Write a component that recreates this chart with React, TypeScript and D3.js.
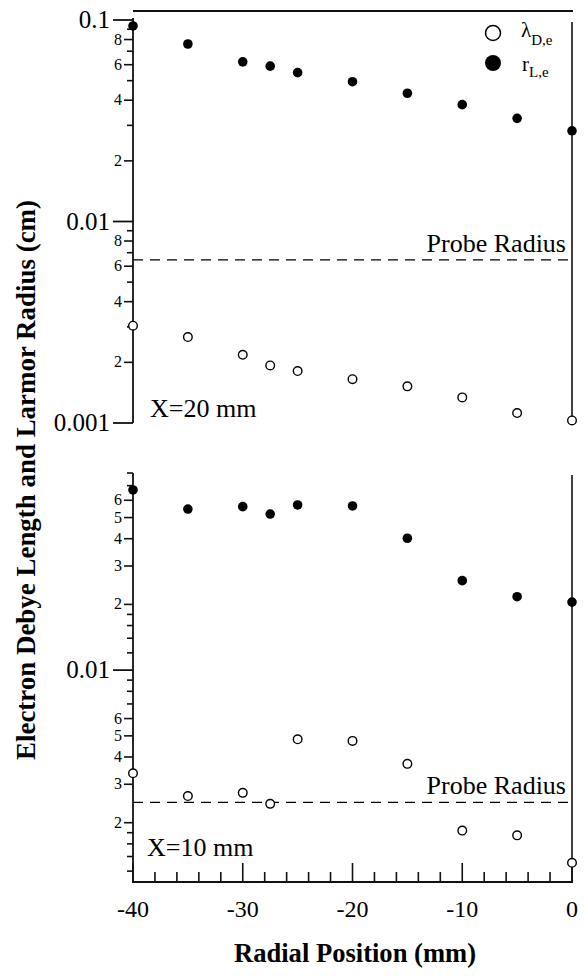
import React from "react";
import * as d3 from "d3";

const radialPos = [-40, -35, -30, -27.5, -25, -20, -15, -10, -5, 0];

// X = 20 mm panel
const debyeX20 = [0.00304, 0.00267, 0.00218, 0.00193, 0.00181, 0.00165, 0.00152, 0.00134, 0.00112, 0.00103];
const larmorX20 = [0.0934, 0.076, 0.062, 0.059, 0.0548, 0.0494, 0.0433, 0.038, 0.0325, 0.0282];
const probeX20 = 0.00645;

// X = 10 mm panel
const debyeX10 = [0.00337, 0.00265, 0.00274, 0.00244, 0.00482, 0.00474, 0.00372, 0.00184, 0.00175, 0.00131];
const larmorX10 = [0.0669, 0.0547, 0.0561, 0.0519, 0.0571, 0.0565, 0.0402, 0.0257, 0.0217, 0.0205];
const probeX10 = 0.00248;

const xTicksMajor = [-40, -30, -20, -10, 0];
const xTicksMinor = d3.range(-38, 0, 2).filter((v) => v % 10 !== 0);

const topMajor = [0.1, 0.01, 0.001];
const topMinorMult = [2, 3, 4, 5, 6, 7, 8, 9];
const topMinorLabels = [2, 4, 6, 8];
const botMajor = [0.01];
const botMinorMult = [1.2, 1.4, 1.6, 1.8, 2, 3, 4, 5, 6, 7, 8, 9];
const botMinorLabels = [2, 3, 4, 5, 6];

const FONT = "'Liberation Serif', 'Times New Roman', serif";

export default function App() {
  const x = d3.scaleLinear().domain([-40, 0]).range([133, 572]);
  const yTop = d3.scaleLog().domain([0.001, 0.1]).range([423, 20]);
  const yBot = d3.scaleLog().domain([0.00107, 0.08]).range([882, 473]);

  const minorTicks = (mults: number[], decades: number[], dom: number[]) => {
    const out: { v: number; m: number }[] = [];
    decades.forEach((d) =>
      mults.forEach((m) => {
        const v = d * m;
        if (v >= dom[0] * 0.999 && v <= dom[1] * 1.001) out.push({ v, m });
      })
    );
    return out;
  };

  const topMinors = minorTicks(topMinorMult, [0.001, 0.01], [0.001, 0.1]);
  const botMinors = minorTicks(botMinorMult, [0.001, 0.01], [0.00107, 0.08]);

  const axisColor = "#111";

  const renderYAxis = (
    y: d3.ScaleLogarithmic<number, number>,
    majors: number[],
    minors: { v: number; m: number }[],
    labels: number[],
    key: string,
    majorLabels: string[]
  ) => (
    <g key={key}>
      {majors.map((v, i) => (
        <g key={"M" + v}>
          <line x1={113} x2={133} y1={y(v)} y2={y(v)} stroke={axisColor} strokeWidth={1.8} />
          <text x={110} y={y(v) + 8} textAnchor="end" fontSize={25} fontFamily={FONT}>
            {majorLabels[i]}
          </text>
        </g>
      ))}
      {minors.map(({ v, m }) => {
        const lab = labels.includes(m);
        return (
          <g key={"m" + v}>
            <line x1={lab ? 124 : 127} x2={133} y1={y(v)} y2={y(v)} stroke={axisColor} strokeWidth={1.6} />
            {lab && (
              <text x={122} y={y(v) + 5} textAnchor="end" fontSize={16} fontFamily={FONT}>
                {m}
              </text>
            )}
          </g>
        );
      })}
    </g>
  );

  const renderPoints = (
    y: d3.ScaleLogarithmic<number, number>,
    vals: number[],
    filled: boolean,
    key: string
  ) =>
    vals.map((v, i) => (
      <circle
        key={key + i}
        cx={x(radialPos[i])}
        cy={y(v)}
        r={filled ? 4.8 : 4.3}
        fill={filled ? "#000" : "#fff"}
        stroke="#000"
        strokeWidth={filled ? 0 : 1.4}
      />
    ));

  return (
    <svg
      width={585}
      height={976}
      style={{ position: "absolute", left: 0, top: 0, background: "#fff" }}
      fontFamily={FONT}
    >
      <rect width={585} height={976} fill="#fff" />

      {/* ---------- Top panel (X=20 mm) ---------- */}
      <line x1={133} x2={573} y1={11} y2={11} stroke={axisColor} strokeWidth={2} />
      <line x1={133} x2={133} y1={18} y2={yTop(0.001)} stroke={axisColor} strokeWidth={1.8} />
      <line x1={572} x2={572} y1={22} y2={yTop(0.001)} stroke={axisColor} strokeWidth={1.6} />
      {renderYAxis(yTop, topMajor, topMinors, topMinorLabels, "ytop", ["0.1", "0.01", "0.001"])}
      <line
        x1={133}
        x2={572}
        y1={yTop(probeX20)}
        y2={yTop(probeX20)}
        stroke="#000"
        strokeWidth={1.3}
        strokeDasharray="10,7"
      />
      <text x={566} y={yTop(probeX20) - 8} textAnchor="end" fontSize={26}>
        Probe Radius
      </text>
      <text x={150} y={417} fontSize={26}>
        X=20 mm
      </text>
      {renderPoints(yTop, larmorX20, true, "lt")}
      {renderPoints(yTop, debyeX20, false, "dt")}

      {/* legend */}
      <circle cx={493} cy={33} r={7.5} fill="#fff" stroke="#000" strokeWidth={1.5} />
      <text x={521} y={37} fontSize={21}>
        λ<tspan fontSize={15} dy={8}>D,e</tspan>
      </text>
      <circle cx={493} cy={63} r={8} fill="#000" />
      <text x={522} y={71} fontSize={21}>
        r<tspan fontSize={15} dy={6}>L,e</tspan>
      </text>

      {/* ---------- Bottom panel (X=10 mm) ---------- */}
      <line x1={133} x2={133} y1={473} y2={882} stroke={axisColor} strokeWidth={1.8} />
      <line x1={572} x2={572} y1={475} y2={882} stroke={axisColor} strokeWidth={1.6} />
      <line x1={132} x2={573} y1={882} y2={882} stroke={axisColor} strokeWidth={2} />
      {renderYAxis(yBot, botMajor, botMinors, botMinorLabels, "ybot", ["0.01"])}
      {xTicksMajor.map((v) => (
        <g key={"xM" + v}>
          <line x1={x(v)} x2={x(v)} y1={882} y2={863} stroke={axisColor} strokeWidth={1.6} />
          <text x={x(v)} y={917} textAnchor="middle" fontSize={24}>
            {v}
          </text>
        </g>
      ))}
      {xTicksMinor.map((v) => (
        <line key={"xm" + v} x1={x(v)} x2={x(v)} y1={882} y2={872} stroke={axisColor} strokeWidth={1.6} />
      ))}
      <line
        x1={133}
        x2={572}
        y1={yBot(probeX10)}
        y2={yBot(probeX10)}
        stroke="#000"
        strokeWidth={1.3}
        strokeDasharray="10,7"
      />
      <text x={566} y={yBot(probeX10) - 8} textAnchor="end" fontSize={26}>
        Probe Radius
      </text>
      <text x={147} y={856} fontSize={26}>
        X=10 mm
      </text>
      {renderPoints(yBot, larmorX10, true, "lb")}
      {renderPoints(yBot, debyeX10, false, "db")}

      {/* axis titles */}
      <text
        x={355}
        y={962}
        textAnchor="middle"
        fontSize={27}
        fontWeight="bold"
        textLength={242}
        lengthAdjust="spacingAndGlyphs"
      >
        Radial Position (mm)
      </text>
      <text
        transform="translate(35,480) rotate(-90)"
        textAnchor="middle"
        fontSize={27}
        fontWeight="bold"
        textLength={560}
        lengthAdjust="spacingAndGlyphs"
      >
        Electron Debye Length and Larmor Radius (cm)
      </text>
    </svg>
  );
}
